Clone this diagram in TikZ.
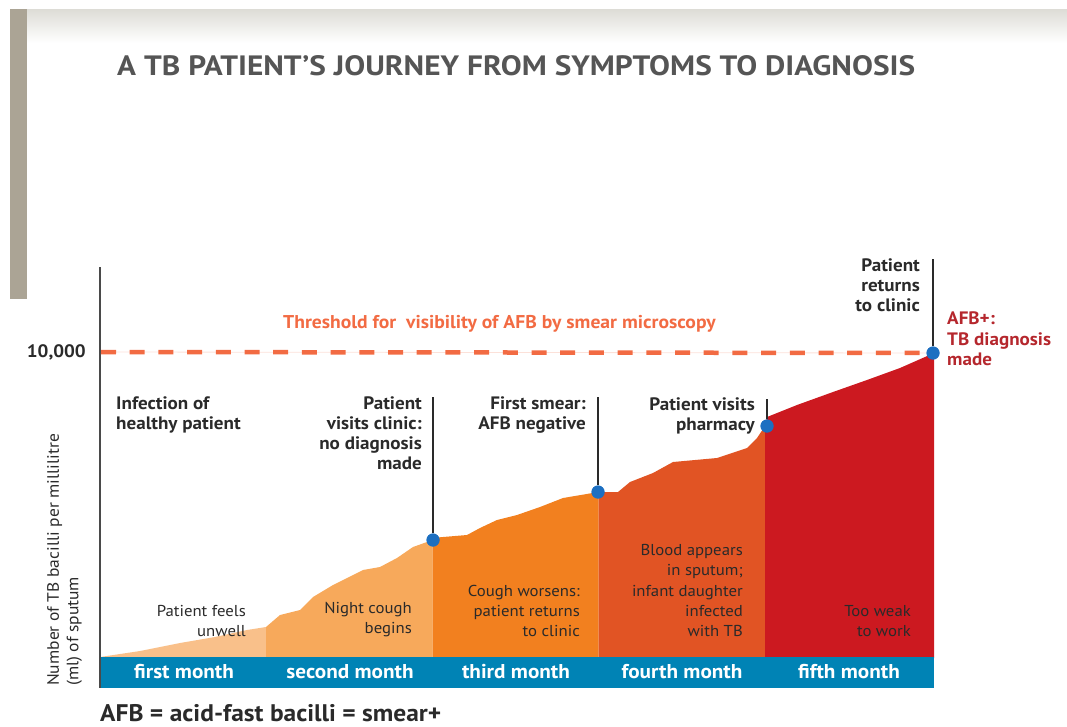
\documentclass[tikz,border=0pt]{standalone}
\usepackage{fontspec}
\setmainfont{PT Sans}[FakeStretch=1.06]
\usepackage{graphicx}
\definecolor{mOne}{HTML}{F9C08A}
\definecolor{mTwo}{HTML}{F7A95B}
\definecolor{mThree}{HTML}{F2801F}
\definecolor{mFour}{HTML}{E15424}
\definecolor{mFive}{HTML}{CC1920}
\definecolor{band}{HTML}{0083B5}
\definecolor{dotblue}{HTML}{1C6FC1}
\definecolor{thresh}{HTML}{F26B43}
\definecolor{afbred}{HTML}{B5272D}
\definecolor{ink}{HTML}{2A2A2A}
\definecolor{titlegray}{HTML}{555555}
\definecolor{sidebar}{HTML}{ABA495}
\definecolor{topband}{HTML}{DDDCD6}
\tikzset{
  boldlbl/.style={font=\bfseries\fontsize{18}{20.3}\selectfont, text=ink, inner sep=0pt, align=right},
  reglbl/.style={font=\fontsize{15.8}{20.3}\selectfont, text=ink, inner sep=0pt, align=right},
  monthlbl/.style={font=\bfseries\fontsize{20}{22}\selectfont, text=white, inner sep=0pt},
  eventdot/.style={circle, fill=dotblue, minimum size=13pt, inner sep=0pt},
  marker/.style={draw=ink, line width=1.3pt},
  threshline/.style={draw=thresh, line width=4.5pt, dash pattern=on 15pt off 13.7pt},
}
\begin{document}
\begin{tikzpicture}[x=1pt, y=-1pt]
\useasboundingbox (0,0) rectangle (1067,726);
% background decorations
\shade[top color=topband, bottom color=white] (10,9) rectangle (1067,43);
\fill[sidebar] (10,9) rectangle (27,299);
% title
\node[anchor=west, inner sep=0pt, text=titlegray, font=\bfseries\fontsize{28}{28}\selectfont] (title) at (117,66) {\scalebox{1.055}[1]{A TB PATIENT’S JOURNEY FROM SYMPTOMS TO DIAGNOSIS}};
% areas
\fill[mOne] (100,657) -- (140,651) -- (180,643) -- (215,637) -- (247,630) -- (266,627) -- (266,658) -- (100,658) -- cycle;
\fill[mTwo] (266,627) -- (280,615) -- (300,610) -- (313,597) -- (333,585) -- (363,570) -- (380,567) -- (397,558) -- (413,547) -- (432.5,540) -- (432.5,658) -- (266,658) -- cycle;
\fill[mThree] (432.5,538) -- (443,537) -- (467,535) -- (480,528) -- (497,520) -- (517,515) -- (540,507) -- (563,498) -- (598.5,492) -- (598.5,658) -- (432.5,658) -- cycle;
\fill[mFour] (598.5,492) -- (618,492) -- (630,482) -- (653,473) -- (673,462) -- (717,458) -- (747,448) -- (757,438) -- (765,426) -- (765,658) -- (598.5,658) -- cycle;
\fill[mFive] (765,426) -- (767,417) -- (777,413) -- (797,405) -- (833,392) -- (867,380) -- (900,368) -- (934,353) -- (934,658) -- (765,658) -- cycle;
% month band
\fill[band] (100,657) rectangle (934,688);
\node[monthlbl] (m1) at (184,672) {first month};
\node[monthlbl] (m2) at (350,672) {second month};
\node[monthlbl] (m3) at (516,672) {third month};
\node[monthlbl] (m4) at (682,672) {fourth month};
\node[monthlbl] (m5) at (849,672) {fifth month};
% axis
\coordinate (axTop) at (100,267);
\coordinate (axBot) at (100,688);
\draw[draw=ink!85, line width=1.4pt] (axTop) -- (axBot);
% event dots
\node[eventdot] (clinic) at (433,540) {};
\node[eventdot] (smear) at (598,492) {};
\node[eventdot] (pharm) at (767,426) {};
\node[eventdot] (diag) at (933,353) {};
% threshold
\coordinate (thL) at (101,352);
\draw[draw=thresh!20, line width=0.8pt] (thL) -- (diag);
\draw[threshline] (thL) -- (diag.west);
\node[anchor=west, inner sep=0pt, text=thresh, font=\bfseries\fontsize{18.5}{20}\selectfont] (thtext) at (283,324) {Threshold for\ \ visibility of AFB by smear microscopy};
\node[anchor=east, inner sep=0pt, text=ink, font=\bfseries\fontsize{18}{20}\selectfont] (tenk) at (86,352) {10,000};
% marker lines
\coordinate (clinicTop) at (433,397);
\coordinate (smearTop) at (598,397);
\coordinate (pharmTop) at (767,399);
\coordinate (diagTop) at (933,259);
\draw[marker] (clinicTop) -- (clinic);
\draw[marker] (smearTop) -- (smear);
\draw[marker] (pharmTop) -- (pharm);
\draw[marker] (diagTop) -- (diag);
\node[eventdot] at (clinic) {};
\node[eventdot] at (smear) {};
\node[eventdot] at (pharm) {};
\node[eventdot] at (diag) {};
% top labels
\node[boldlbl, anchor=north west, align=left] (infect) at (116,396) {Infection of\\healthy patient};
\node[boldlbl, anchor=north east] (visit) at (422,396) {Patient\\visits clinic:\\no diagnosis\\made};
\node[boldlbl, anchor=north east] (first) at (586,396) {First smear:\\AFB negative};
\node[boldlbl, anchor=north east] (pharmtxt) at (755,397) {Patient visits\\pharmacy};
\node[boldlbl, anchor=north east] (returns) at (920,258) {Patient\\returns\\to clinic};
\node[boldlbl, anchor=north west, align=left, text=afbred] (afbplus) at (947,312) {AFB+:\\TB diagnosis\\made};
% bottom labels
\node[reglbl, anchor=south east] (feels) at (246,637) {Patient feels\\unwell};
\node[reglbl, anchor=south east] (night) at (412,637) {Night cough\\begins};
\node[reglbl, anchor=south east] (worse) at (580,637) {Cough worsens:\\patient returns\\to clinic};
\node[reglbl, anchor=south east] (blood) at (743,637) {Blood appears\\in sputum;\\infant daughter\\infected\\with TB};
\node[reglbl, anchor=south east] (weak) at (911,637) {Too weak\\to work};
% y label
\node[rotate=90, anchor=north west, align=left, inner sep=0pt, text=ink, font=\fontsize{16.5}{19.5}\selectfont] (ylab) at (47,686) {Number of TB bacilli per millilitre\\(ml) of sputum};
% footnote
\node[anchor=west, inner sep=0pt, text=ink, font=\bfseries\fontsize{24}{26}\selectfont] (foot) at (100,713) {AFB = acid-fast bacilli = smear+};
\end{tikzpicture}
\end{document}
